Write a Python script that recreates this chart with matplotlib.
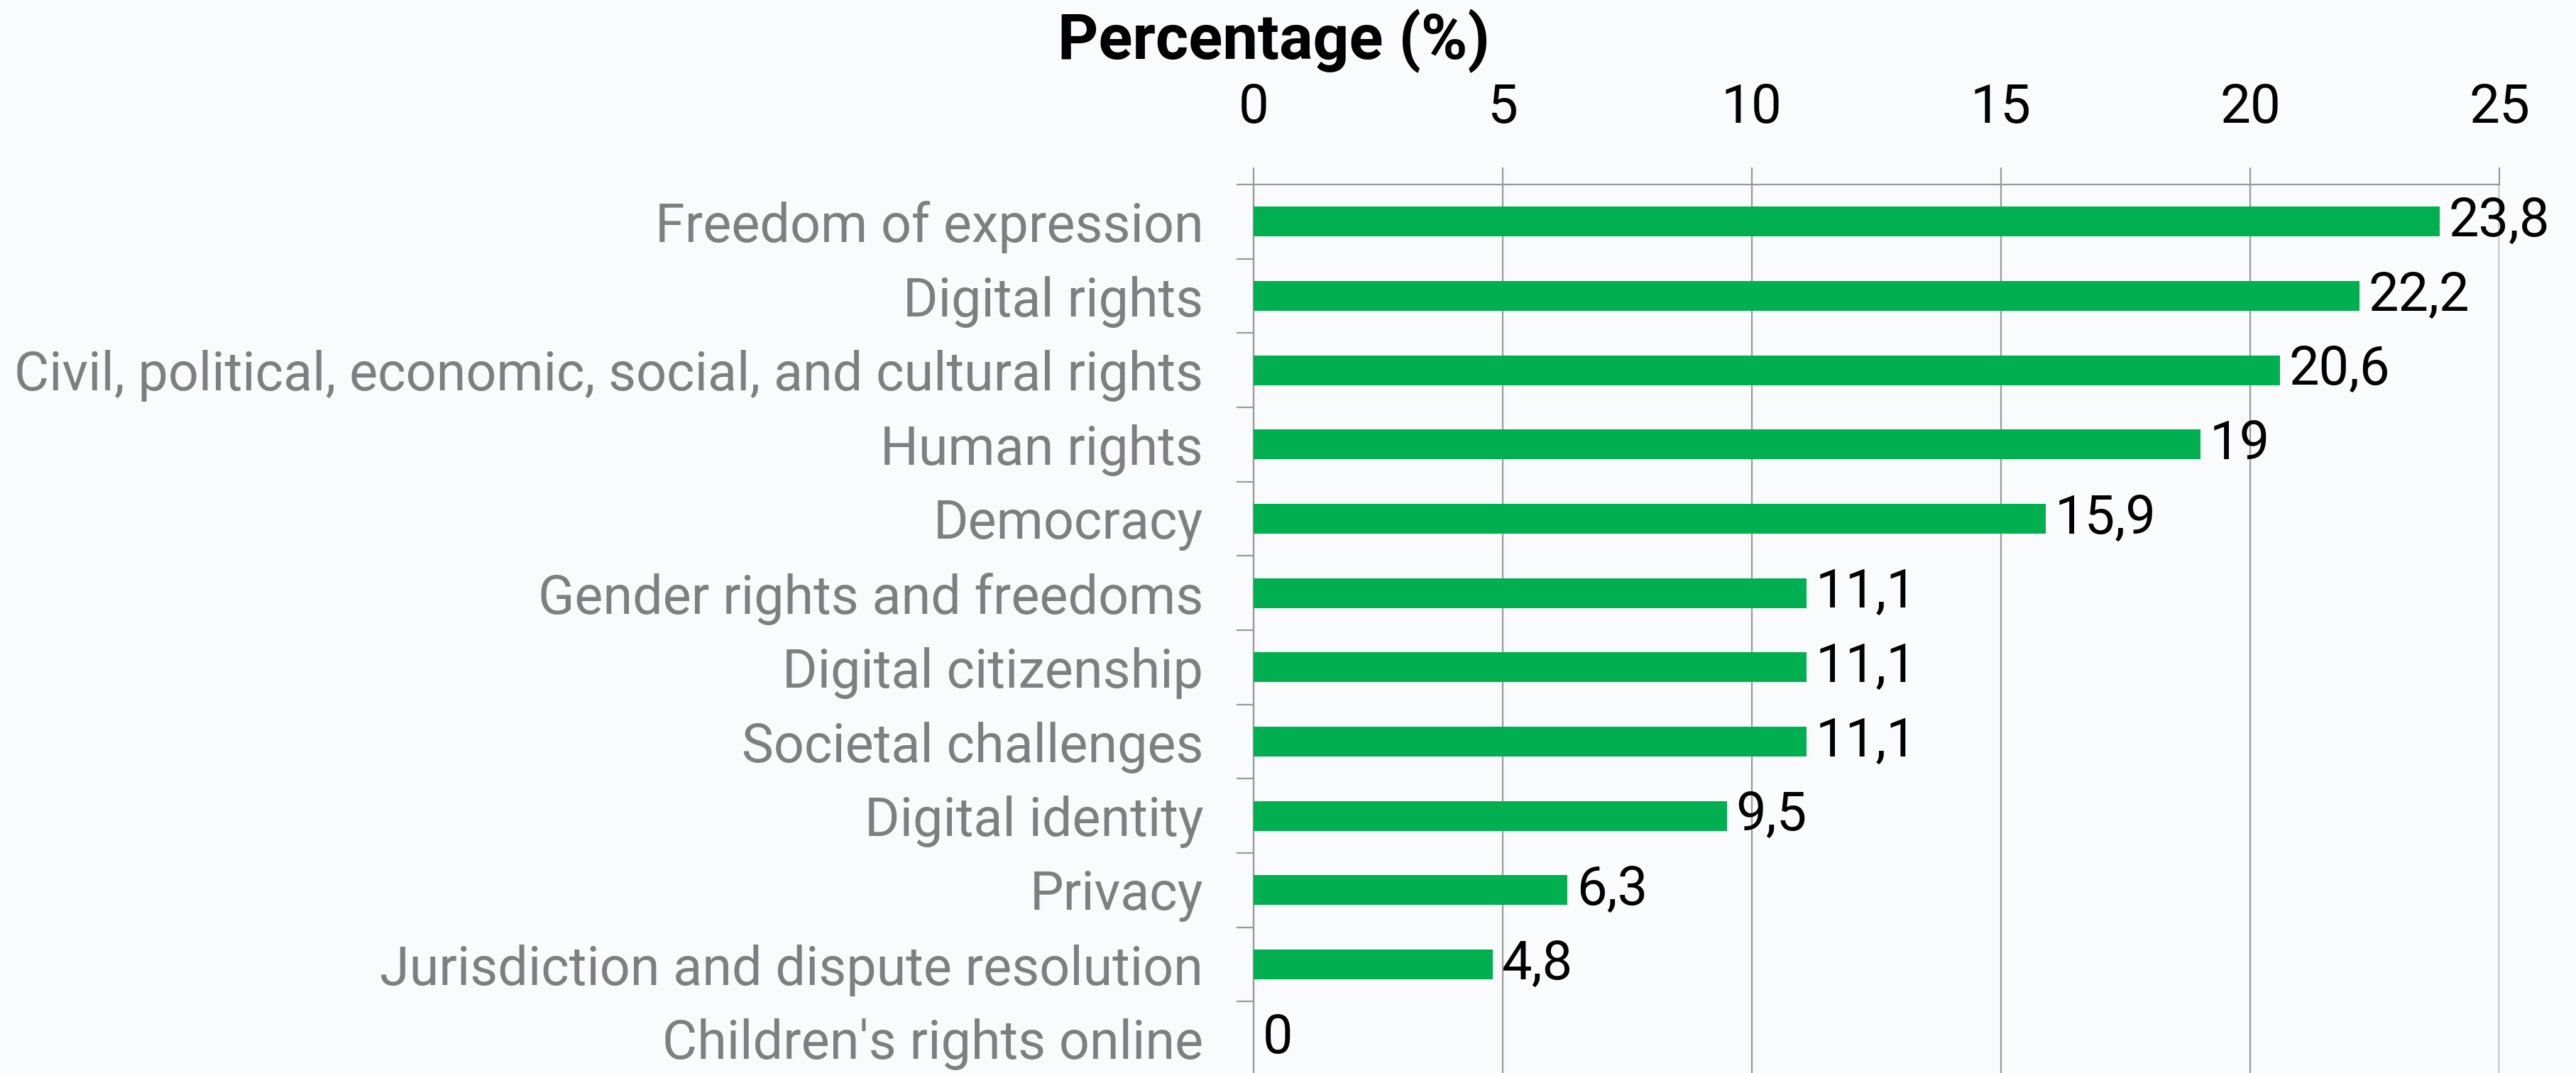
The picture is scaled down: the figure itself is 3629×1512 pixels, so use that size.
import matplotlib.pyplot as plt
import numpy as np

categories = ['Freedom of expression', 'Digital rights',
              'Civil, political, economic, social, and cultural rights',
              'Human rights', 'Democracy', 'Gender rights and freedoms',
              'Digital citizenship', 'Societal challenges', 'Digital identity',
              'Privacy', 'Jurisdiction and dispute resolution',
              "Children's rights online"]
values = [23.8, 22.2, 20.6, 19, 15.9, 11.1, 11.1, 11.1, 9.5, 6.3, 4.8, 0]
x_ticks = [0, 5, 10, 15, 20, 25]

plt.rcParams['font.family'] = ['Roboto', 'DejaVu Sans']
bg = '#fafbfd'
grid_c = '#999999'

fig = plt.figure(figsize=(36.3, 15.12), dpi=100, facecolor=bg)
ax = fig.add_axes([1766 / 3630, -4 / 1512, 1755 / 3630, 1256 / 1512])
ax.set_facecolor(bg)

y_pos = np.arange(len(categories))
ax.barh(y_pos, values, height=0.4, color='#00b050', zorder=3)

for y, v in zip(y_pos, values):
    ax.annotate(f'{v:g}'.replace('.', ','), (v, y), xytext=(9, 0),
                textcoords='offset points', va='center', ha='left',
                fontsize=54.5, color='black', zorder=4)

ax.set_xlim(0, 25)
ax.set_ylim(len(categories) - 0.5, -0.5)

ax.xaxis.tick_top()
ax.set_xticks(x_ticks)
ax.tick_params(axis='x', length=17, width=1.6, color=grid_c, pad=34,
               labelsize=55, labelcolor='black')
ax.grid(axis='x', color=grid_c, linewidth=1.6, zorder=1)

ax.set_yticks(y_pos)
ax.set_yticklabels(categories)
ax.set_yticks(np.arange(-0.5, len(categories), 1), minor=True)
ax.tick_params(axis='y', which='major', length=0, pad=51, labelsize=54.4,
               labelcolor='#7f7f7f')
ax.tick_params(axis='y', which='minor', length=17, width=1.6, color=grid_c)

for s in ['right', 'bottom']:
    ax.spines[s].set_visible(False)
for s in ['left', 'top']:
    ax.spines[s].set_color(grid_c)
    ax.spines[s].set_linewidth(1.6)

fig.text(1794 / 3630, 1 - 83 / 1512, 'Percentage (%)', ha='center',
         va='baseline', fontsize=64, fontweight='bold', color='black')

fig.savefig('out.png', dpi=100, facecolor=bg)
